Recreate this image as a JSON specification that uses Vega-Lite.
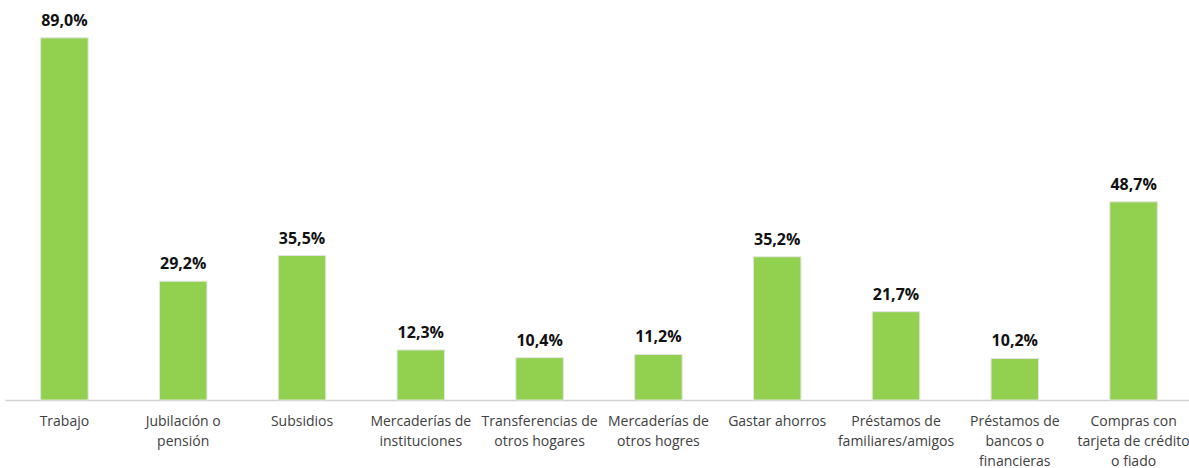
{
  "$schema": "https://vega.github.io/schema/vega-lite/v6.json",
  "width": 1188,
  "height": 400,
  "autosize": {"type": "none"},
  "padding": {"left": 5, "top": 0, "right": 0, "bottom": 68},
  "background": "white",
  "config": {
    "view": {"stroke": null},
    "locale": {"number": {"decimal": ",", "thousands": ".", "grouping": [3], "currency": ["", " €"]}},
    "font": "Open Sans"
  },
  "data": {
    "values": [
      {"cat": "Trabajo", "v": 0.890},
      {"cat": "Jubilación o|pensión", "v": 0.292},
      {"cat": "Subsidios", "v": 0.355},
      {"cat": "Mercaderías de|instituciones", "v": 0.123},
      {"cat": "Transferencias de|otros hogares", "v": 0.104},
      {"cat": "Mercaderías de|otros hogres", "v": 0.112},
      {"cat": "Gastar ahorros", "v": 0.352},
      {"cat": "Préstamos de|familiares/amigos", "v": 0.217},
      {"cat": "Préstamos de|bancos o|financieras", "v": 0.102},
      {"cat": "Compras con|tarjeta de crédito|o fiado", "v": 0.487}
    ]
  },
  "encoding": {
    "x": {
      "field": "cat", "type": "nominal", "sort": null,
      "scale": {"paddingInner": 0.6, "paddingOuter": 0.3},
      "axis": {
        "title": null, "labelAngle": 0, "ticks": false,
        "labelExpr": "split(datum.label, '|')",
        "labelFont": "Open Sans", "labelFontSize": 14, "labelColor": "#404040",
        "labelLineHeight": 20, "labelPadding": 14, "labelLimit": 200,
        "domainColor": "#d0d0d0", "domainWidth": 1.5
      }
    },
    "y": {
      "field": "v", "type": "quantitative",
      "scale": {"domain": [0, 0.983], "nice": false},
      "axis": null
    }
  },
  "layer": [
    {
      "mark": {"type": "bar", "color": "#92D050", "stroke": "#e4e4e4", "strokeWidth": 1}
    },
    {
      "mark": {"type": "text", "dy": -9, "baseline": "bottom", "fontWeight": "bold", "fontSize": 16, "color": "#111111", "font": "Open Sans"},
      "encoding": {"text": {"field": "v", "type": "quantitative", "format": ".1%"}}
    }
  ]
}
